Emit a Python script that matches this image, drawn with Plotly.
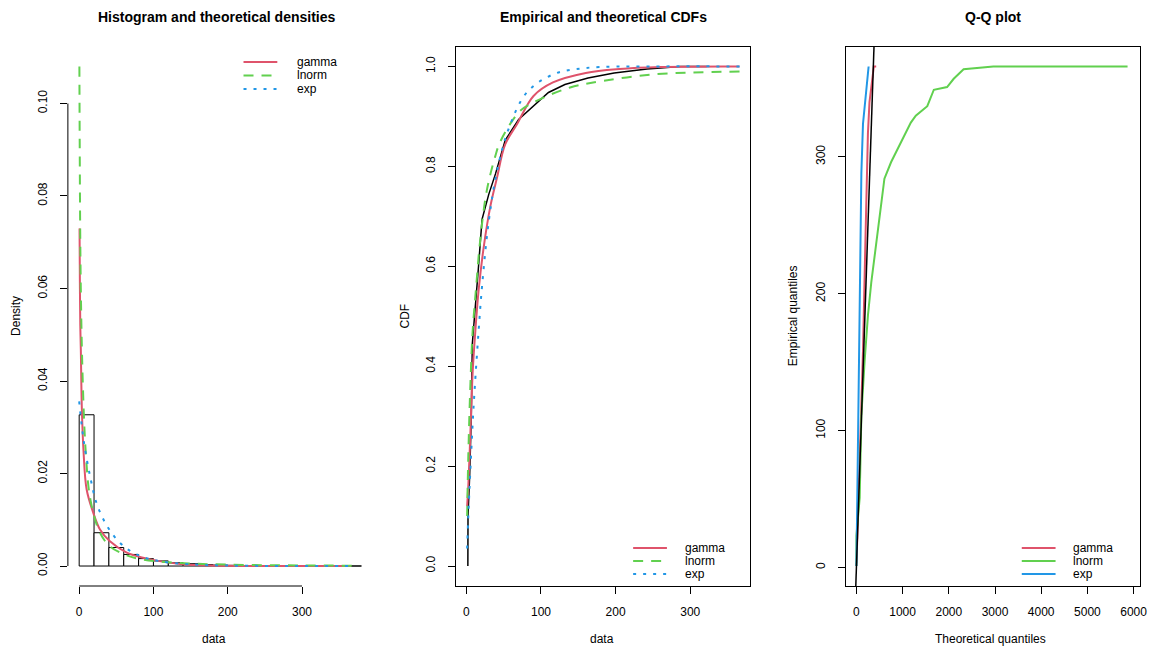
import plotly.graph_objects as go

W, H = 1155, 651

RED = "#DF536B"
GREEN = "#61D04F"
BLUE = "#2297E6"
FONT = "Liberation Sans, Arial, sans-serif"

# ---- histogram panel ----
hist_edges = [0, 20, 40, 60, 80, 100, 120, 140, 160, 180, 200, 220, 240, 260, 280, 300, 320, 340, 360, 380]
hist_density = [0.0327, 0.0072, 0.0040, 0.0025, 0.0016, 0.0011, 0.0007, 0.0005, 0.0003, 0.0002,
                0.00015, 0.0001, 0.0001, 0.00008, 0.00005, 0.00005, 0.00003, 0.00002, 0.00001]

dens_gamma_x = [0.5, 1, 1.5, 2.2, 3.6, 5.8, 10, 19, 28, 41, 64, 86, 108, 139, 175, 250, 366]
dens_gamma_y = [0.073, 0.060, 0.052, 0.047, 0.034, 0.025, 0.0166, 0.0115, 0.0079, 0.0054, 0.0029,
                0.0018, 0.00106, 0.0004, 0.0001, 0.00001, 0.0]
dens_lnorm_x = [0.3, 0.7, 1.3, 2.2, 3.5, 5, 7, 9.5, 13, 19, 28, 41, 64, 86, 130, 200, 300, 370]
dens_lnorm_y = [0.108, 0.092, 0.074, 0.060, 0.048, 0.039, 0.030, 0.023, 0.0165, 0.0115, 0.0072,
                0.0043, 0.0023, 0.0014, 0.0007, 0.0003, 0.00012, 0.00008]
dens_exp_x = [0, 5.8, 14.7, 23.6, 37, 55, 77, 108, 152, 197, 260, 366]
dens_exp_y = [0.0356, 0.0274, 0.0194, 0.0135, 0.0088, 0.005, 0.0025, 0.00106, 0.00035, 0.0001, 0.00002, 0.0]

# ---- CDF panel ----
ecdf_x = [2, 2.2, 4.4, 6.6, 8, 12.4, 16, 21, 30, 39, 52, 70, 88, 110, 132, 163, 198, 242, 287, 322]
ecdf_y = [0, 0.10, 0.18, 0.30, 0.445, 0.52, 0.594, 0.694, 0.744, 0.785, 0.852, 0.894, 0.918, 0.948,
          0.964, 0.977, 0.987, 0.995, 1.0, 1.0]
cdf_gamma_x = [1, 2.6, 5.3, 8.4, 12, 16.5, 23, 32, 41, 52, 68, 90, 116, 160, 205, 260, 366]
cdf_gamma_y = [0.12, 0.16, 0.262, 0.387, 0.47, 0.553, 0.636, 0.719, 0.777, 0.844, 0.885, 0.941,
               0.968, 0.987, 0.995, 0.999, 1.0]
cdf_lnorm_x = [1, 2.6, 5.3, 8.4, 12.8, 18.6, 27.4, 38.5, 45.6, 72, 94, 139, 183, 249, 366]
cdf_lnorm_y = [0.10, 0.22, 0.36, 0.47, 0.553, 0.653, 0.752, 0.819, 0.85, 0.911, 0.931, 0.958,
               0.971, 0.984, 0.990]
cdf_exp_x = [1, 2.6, 5.3, 9.7, 15.9, 21, 30, 41, 56.6, 81, 116, 160, 250, 366]
cdf_exp_y = [0.035, 0.10, 0.19, 0.32, 0.46, 0.56, 0.69, 0.79, 0.875, 0.948, 0.984, 0.997, 1.0, 1.0]

# ---- Q-Q panel ----
qq_gamma_theo = [0, 71, 142, 193, 249, 283, 340, 377, 428]
qq_gamma_emp = [1, 79, 158, 236, 317, 340, 355, 366, 366]
qq_lnorm_theo = [0, 0, 71, 107, 178, 249, 321, 428, 499, 571, 606, 749, 963, 1178, 1285, 1534,
                 1676, 1963, 2106, 2320, 2963, 5870]
qq_lnorm_emp = [1, 23, 51, 111, 151, 184, 208, 235, 257, 272, 284, 296, 311, 325, 330, 337,
                349, 351, 357, 364, 366, 366]
qq_exp_theo = [0, 35, 56, 92, 107, 142, 214, 249, 264]
qq_exp_emp = [1, 95, 163, 228, 288, 324, 350, 366, 366]

dist_names = ["gamma", "lnorm", "exp"]


def px(x):
    return x / W


def py(y):
    return 1 - y / H


YDOM = [py(586), py(46.5)]
X1DOM = [px(68.3), px(375)]
X2DOM = [px(459), px(755)]
X3DOM = [px(851), px(1147)]

DASH = "10px,8px"
DOT = "3px,7px"

fig = go.Figure()

# histogram + densities
centers = [(hist_edges[i] + hist_edges[i + 1]) / 2 for i in range(len(hist_density))]
fig.add_trace(go.Bar(x=centers, y=hist_density, width=20, marker=dict(color="white", line=dict(color="black", width=1)),
                     xaxis="x", yaxis="y"))
fig.add_trace(go.Scatter(x=dens_gamma_x, y=dens_gamma_y, mode="lines", line=dict(color=RED, width=2, shape="spline"),
                         xaxis="x", yaxis="y"))
fig.add_trace(go.Scatter(x=dens_lnorm_x, y=dens_lnorm_y, mode="lines",
                         line=dict(color=GREEN, width=2, dash=DASH, shape="spline"), xaxis="x", yaxis="y"))
fig.add_trace(go.Scatter(x=dens_exp_x, y=dens_exp_y, mode="lines",
                         line=dict(color=BLUE, width=2, dash=DOT, shape="spline"), xaxis="x", yaxis="y"))

# CDFs
fig.add_trace(go.Scatter(x=ecdf_x, y=ecdf_y, mode="lines", line=dict(color="black", width=1.5),
                         xaxis="x2", yaxis="y2"))
fig.add_trace(go.Scatter(x=cdf_gamma_x, y=cdf_gamma_y, mode="lines", line=dict(color=RED, width=2, shape="spline"),
                         xaxis="x2", yaxis="y2"))
fig.add_trace(go.Scatter(x=cdf_lnorm_x, y=cdf_lnorm_y, mode="lines",
                         line=dict(color=GREEN, width=2, dash=DASH, shape="spline"), xaxis="x2", yaxis="y2"))
fig.add_trace(go.Scatter(x=cdf_exp_x, y=cdf_exp_y, mode="lines",
                         line=dict(color=BLUE, width=2, dash=DOT, shape="spline"), xaxis="x2", yaxis="y2"))

# Q-Q
fig.add_trace(go.Scatter(x=qq_gamma_theo, y=qq_gamma_emp, mode="lines", line=dict(color=RED, width=2),
                         xaxis="x3", yaxis="y3"))
fig.add_trace(go.Scatter(x=qq_lnorm_theo, y=qq_lnorm_emp, mode="lines", line=dict(color=GREEN, width=2),
                         xaxis="x3", yaxis="y3"))
fig.add_trace(go.Scatter(x=qq_exp_theo, y=qq_exp_emp, mode="lines", line=dict(color=BLUE, width=2),
                         xaxis="x3", yaxis="y3"))

x1_range = [-15.2, 395.2]
y1_range = [-0.00432, 0.11232]
x2_range = [-13.6, 380.6]
y2_range = [-0.04, 1.04]
x3_range = [-229, 6140]
y3_range = [-13.6, 380.6]

# y = x reference line in the Q-Q panel, across the visible range
fig.add_shape(type="line", xref="x3", yref="y3", x0=y3_range[0], y0=y3_range[0], x1=y3_range[1], y1=y3_range[1],
              line=dict(color="black", width=1.5))

tick_font = dict(family=FONT, size=12, color="black")
common = dict(showgrid=False, zeroline=False, ticks="outside", ticklen=7, tickwidth=1, tickcolor="black",
              tickfont=tick_font, ticklabelstandoff=8)
boxed = dict(showline=True, mirror=True, linecolor="black", linewidth=1)

fig.update_layout(
    width=W, height=H, margin=dict(l=0, r=0, t=0, b=0),
    paper_bgcolor="white", plot_bgcolor="white", showlegend=False,
    xaxis=dict(domain=X1DOM, range=x1_range, tickvals=[0, 100, 200, 300], anchor="y", **common),
    yaxis=dict(domain=YDOM, range=y1_range, tickvals=[0, 0.02, 0.04, 0.06, 0.08, 0.10], tickformat=".2f",
               tickangle=-90, anchor="x", **common),
    xaxis2=dict(domain=X2DOM, range=x2_range, tickvals=[0, 100, 200, 300], anchor="y2", **common, **boxed),
    yaxis2=dict(domain=YDOM, range=y2_range, tickvals=[0, 0.2, 0.4, 0.6, 0.8, 1.0], tickformat=".1f",
                tickangle=-90, anchor="x2", **common, **boxed),
    xaxis3=dict(domain=X3DOM, range=x3_range, tickvals=[0, 1000, 2000, 3000, 4000, 5000, 6000], anchor="y3",
                **common, **boxed),
    yaxis3=dict(domain=YDOM, range=y3_range, tickvals=[0, 100, 200, 300], tickangle=-90, anchor="x3",
                **common, **boxed),
)

# panel 1 axis lines only span the ticks (R style, no box)
fig.add_shape(type="line", xref="x", yref="paper", x0=0, x1=300, y0=YDOM[0], y1=YDOM[0],
              line=dict(color="black", width=1))
fig.add_shape(type="line", xref="paper", yref="y", x0=X1DOM[0], x1=X1DOM[0], y0=0, y1=0.10,
              line=dict(color="black", width=1))

# titles
titles = [("Histogram and theoretical densities", 218), ("Empirical and theoretical CDFs", 607), ("Q-Q plot", 999)]
for text, cx in titles:
    fig.add_annotation(text=f"<b>{text}</b>", x=px(cx), y=py(17), xref="paper", yref="paper", showarrow=False,
                       xanchor="center", yanchor="middle", font=dict(family=FONT, size=14, color="black"))

# axis titles
lab_font = dict(family=FONT, size=12, color="black")
for text, cx in [("data", 215), ("data", 606), ("Theoretical quantiles", 997)]:
    fig.add_annotation(text=text, x=px(cx), y=py(639), xref="paper", yref="paper", showarrow=False,
                       xanchor="center", yanchor="middle", font=lab_font)
for text, cx in [("Density", 16), ("CDF", 407), ("Empirical quantiles", 798)]:
    fig.add_annotation(text=text, x=px(cx), y=py(316), xref="paper", yref="paper", showarrow=False,
                       textangle=-90, xanchor="center", yanchor="middle", font=lab_font)

# legends (R style: no box)
styles_dens = [dict(color=RED, width=2), dict(color=GREEN, width=2, dash=DASH),
               dict(color=BLUE, width=2, dash=DOT)]
styles_qq = [dict(color=RED, width=2), dict(color=GREEN, width=2), dict(color=BLUE, width=2)]
legends = [
    (245, 279, 297, [62, 75.5, 89], styles_dens),
    (637, 671, 687, [548, 561, 574], styles_dens),
    (1028, 1062, 1078, [548, 561, 574], styles_qq),
]
for lx0, lx1, tx, rows, styles in legends:
    for name, ry, st in zip(dist_names, rows, styles):
        fig.add_shape(type="line", xref="paper", yref="paper", x0=px(lx0), x1=px(lx1), y0=py(ry), y1=py(ry),
                      line=st)
        fig.add_annotation(text=name, x=px(tx), y=py(ry), xref="paper", yref="paper", showarrow=False,
                           xanchor="left", yanchor="middle", font=lab_font)

# drop the default body margin so the figure sits exactly in the window
page_js = "document.body.style.margin='0';document.body.style.padding='0';"
fig.write_html("out.html", config={"displayModeBar": False}, post_script=page_js)
